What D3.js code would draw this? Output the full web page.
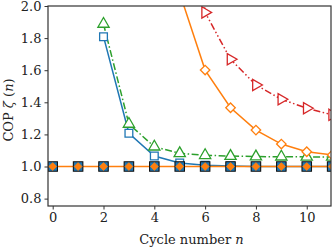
<!DOCTYPE html>
<html><head><meta charset="utf-8">
<script src="https://cdn.jsdelivr.net/npm/d3@7"></script>
<style>
html,body{margin:0;padding:0;background:#fff;}
svg{display:block;}
text{font-family:"DejaVu Serif",serif;fill:#222;}
</style></head>
<body><svg id="c" width="333" height="248"></svg>
<script>
// ---- data ----
const cyclesAll = [0,1,2,3,4,5,6,7,8,9,10,11];
const baseValues = [1,1,1,1,1,1,1,1,1,1,1,1];
const blueCycles = [2,3,4,5,6,7,8,9,10,11];
const blueValues = [1.809,1.207,1.065,1.022,1.008,1.003,1.0,1.0,1.0,1.0];
const greenCycles = [2,3,4,5,6,7,8,9,10,11];
const greenValues = [1.888,1.265,1.123,1.082,1.07,1.065,1.062,1.061,1.06,1.06];
const orangeCycles = [5,6,7,8,9,10,11];
const orangeValues = [2.08,1.601,1.366,1.227,1.14,1.092,1.072];
const redCycles = [5,6,7,8,9,10,11];
const redValues = [3.4,1.96,1.668,1.508,1.419,1.363,1.322];
const xTicks = [0,2,4,6,8,10];
const yTicks = [0.8,1.0,1.2,1.4,1.6,1.8,2.0];

const svg = d3.select('#c');
const L=48, R=331, T=6, B=206;
const x = d3.scaleLinear().domain([-0.185,10.955]).range([L,R]);
const y = d3.scaleLinear().domain([0.754,2.0]).range([B,T]);

svg.append('clipPath').attr('id','clip').append('rect')
  .attr('x',L).attr('y',T).attr('width',R-L).attr('height',B-T);

const xAxis = d3.axisBottom(x).tickValues(xTicks).tickSize(3.5).tickPadding(3).tickFormat(d3.format('d'));
const yAxis = d3.axisLeft(y).tickValues(yTicks).tickSize(3.5).tickPadding(3).tickFormat(d3.format('.1f'));
const gx = svg.append('g').attr('transform',`translate(0,${B})`).call(xAxis);
const gy = svg.append('g').attr('transform',`translate(${L},0)`).call(yAxis);
[gx,gy].forEach(g=>{
  g.select('.domain').remove();
  g.selectAll('line').attr('stroke','#333').attr('stroke-width',1);
  g.selectAll('text').style('font-family','"DejaVu Serif",serif').style('font-size','13px').attr('fill','#222');
});

const plot = svg.append('g').attr('clip-path','url(#clip)');
const line = d3.line().x(d=>x(d[0])).y(d=>y(d[1]));
const zip = (a,b)=>a.map((v,i)=>[v,b[i]]);

// lines
plot.append('path').datum(zip(blueCycles,blueValues)).attr('d',line)
  .attr('fill','none').attr('stroke','#1f77b4').attr('stroke-width',1.5);
plot.append('path').datum(zip(greenCycles,greenValues)).attr('d',line)
  .attr('fill','none').attr('stroke','#2ca02c').attr('stroke-width',1.5).attr('stroke-dasharray','7,2.5,1.5,2.5');
plot.append('path').datum(zip(orangeCycles,orangeValues)).attr('d',line)
  .attr('fill','none').attr('stroke','#ff7f0e').attr('stroke-width',1.5);
plot.append('path').datum(zip(redCycles,redValues)).attr('d',line)
  .attr('fill','none').attr('stroke','#d62728').attr('stroke-width',1.5).attr('stroke-dasharray','7,2.5,1.5,2.5,1.5,2.5');
plot.append('path').datum(zip(cyclesAll,baseValues)).attr('d',line)
  .attr('fill','none').attr('stroke','#ff7f0e').attr('stroke-width',1.5);

// markers
const sym = (type,size)=>d3.symbol().type(type).size(size)();
function markers(xs,vs,type,size,fill,stroke,sw,rot){
  plot.append('g').selectAll('path').data(zip(xs,vs)).join('path')
    .attr('transform',d=>`translate(${x(d[0])},${y(d[1])})`+(rot?` rotate(${rot})`:''))
    .attr('d',sym(type,size)).attr('fill',fill).attr('stroke',stroke).attr('stroke-width',sw);
}
markers(blueCycles,blueValues,d3.symbolSquare,60,'#fff','#1f77b4',1.3);
markers(greenCycles,greenValues,d3.symbolTriangle,55,'#fff','#2ca02c',1.3);
markers(orangeCycles,orangeValues,d3.symbolSquare,45,'#fff','#ff7f0e',1.3,45);
markers(redCycles,redValues,d3.symbolTriangle,55,'#fff','#d62728',1.3,90);
markers(cyclesAll,baseValues,d3.symbolSquare,90,'#1f77b4','#111',1.1);
markers(cyclesAll,baseValues,d3.symbolSquare,30,'#ff7f0e','#ff7f0e',0.8,45);

// spines
svg.append('rect').attr('x',L).attr('y',T).attr('width',R-L).attr('height',B-T)
  .attr('fill','none').attr('stroke','#333').attr('stroke-width',1.2);

// labels
const xl = svg.append('text').attr('x',(L+R)/2+2).attr('y',244).attr('text-anchor','middle').style('font-size','13px');
xl.append('tspan').text('Cycle number ');
xl.append('tspan').style('font-style','italic').text('n');
const yl = svg.append('text').attr('transform',`translate(13,${(T+B)/2+4}) rotate(-90)`).attr('text-anchor','middle').style('font-size','13px');
yl.append('tspan').text('COP  ');
yl.append('tspan').style('font-style','italic').text('ζ');
yl.append('tspan').text(' (');
yl.append('tspan').style('font-style','italic').text('n');
yl.append('tspan').text(')');
</script></body></html>
